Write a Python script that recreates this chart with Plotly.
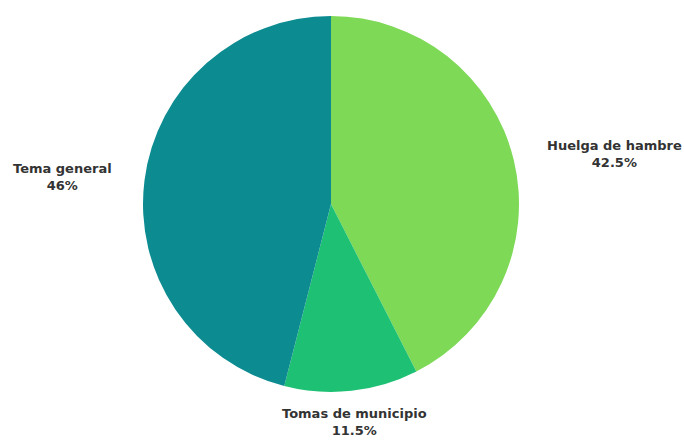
import plotly.graph_objects as go

labels = ["Huelga de hambre", "Tomas de municipio", "Tema general"]
values = [42.5, 11.5, 46]
colors = ["#7ed957", "#1ec073", "#0c8c91"]

W, H = 684, 441
cx, cy, r = 331, 204, 188

fig = go.Figure(go.Pie(
    labels=labels, values=values, sort=False, direction="clockwise",
    rotation=0, marker=dict(colors=colors, line=dict(width=0)),
    textinfo="none", hoverinfo="label+percent", showlegend=False,
    domain=dict(x=[(cx - r) / W, (cx + r) / W], y=[(H - cy - r) / H, (H - cy + r) / H]),
))

label_pos = {"Huelga de hambre": (614, 154), "Tomas de municipio": (354, 422), "Tema general": (62, 177)}
for lab, val in zip(labels, values):
    x, y = label_pos[lab]
    fig.add_annotation(x=x / W, y=1 - y / H, xref="paper", yref="paper",
                       text=f"<b>{lab}</b><br><b>{val:g}%</b>", showarrow=False,
                       font=dict(family="DejaVu Sans", size=13, color="#333333"),
                       align="center", xanchor="center", yanchor="middle")

fig.update_layout(width=W, height=H, margin=dict(l=0, r=0, t=0, b=0),
                  paper_bgcolor="white", plot_bgcolor="white")
fig.write_html("out.html", config={"displayModeBar": False},
               post_script="document.body.style.margin='0';document.body.style.overflow='hidden';")
